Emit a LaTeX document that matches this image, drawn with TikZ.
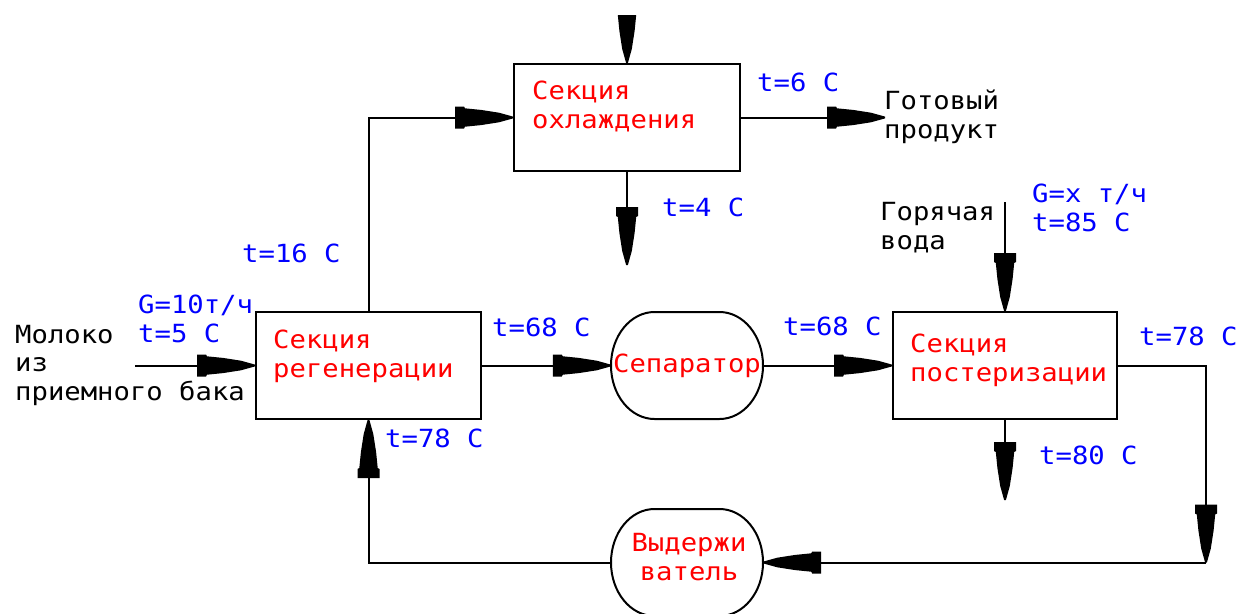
\documentclass[tikz,border=0pt]{standalone}
\usepackage{fontspec}
\newfontfamily\cadfont[FakeStretch=1.09]{DejaVu Sans Mono}
\usetikzlibrary{arrows.meta,calc}
\pgfdeclarearrow{
  name = CAD,
  setup code = {
    \pgfarrowssettipend{0pt}
    \pgfarrowssetlineend{-30pt}
    \pgfarrowssetvisualbackend{-58pt}
    \pgfarrowssetbackend{-58pt}
    \pgfarrowsupperhullpoint{-58pt}{11pt}
    \pgfarrowsupperhullpoint{0pt}{1pt}
  },
  drawing code = {
    \pgfpathmoveto{\pgfqpoint{0pt}{0.9pt}}
    \pgfpathlineto{\pgfqpoint{-14pt}{4.8pt}}
    \pgfpathlineto{\pgfqpoint{-32pt}{7.6pt}}
    \pgfpathlineto{\pgfqpoint{-48pt}{9.2pt}}
    \pgfpathlineto{\pgfqpoint{-49pt}{11pt}}
    \pgfpathlineto{\pgfqpoint{-58pt}{11pt}}
    \pgfpathlineto{\pgfqpoint{-58pt}{-11pt}}
    \pgfpathlineto{\pgfqpoint{-49pt}{-11pt}}
    \pgfpathlineto{\pgfqpoint{-48pt}{-9.2pt}}
    \pgfpathlineto{\pgfqpoint{-32pt}{-7.6pt}}
    \pgfpathlineto{\pgfqpoint{-14pt}{-4.8pt}}
    \pgfpathlineto{\pgfqpoint{0pt}{-0.9pt}}
    \pgfpathclose
    \pgfusepathqfill
  }
}
\newcommand\tankoutline[1]{%
  \draw[line width=2pt] ([shift={(-32.5,-53.5)}]#1.center) -- ++(65,0)
    arc[start angle=-90,end angle=90,x radius=43.5,y radius=53.5]
    -- ++(-65,0)
    arc[start angle=90,end angle=270,x radius=43.5,y radius=53.5] -- cycle;}
\begin{document}
\begin{tikzpicture}[x=1pt,y=-1pt,
  txt/.style={font=\cadfont\fontsize{25}{28.5}\selectfont, inner sep=0pt, anchor=base west, align=left},
  blu/.style={txt,text=blue},
  rd/.style={txt,text=red},
  blk/.style={txt,text=black},
  box/.style={draw, line width=2pt, minimum height=107pt, inner sep=0pt},
  tank/.style={minimum width=152pt, minimum height=107pt, inner sep=0pt},
  flow/.style={-CAD, line width=2pt}]
\useasboundingbox (0,0) rectangle (1236,613);
\clip (0,15) rectangle (1236,613);
% blocks
\node[box, minimum width=225pt] (regen) at (368.5,365.5) {};
\node[box, minimum width=226pt] (cool) at (627,117.5) {};
\node[box, minimum width=224pt] (past) at (1005,365.5) {};
\node[tank, font=\cadfont\fontsize{25}{28.5}\selectfont, text=red] (sep) at (687,365.5) {Сепаратор};
\node[tank] (hold) at (687,562.5) {};
\tankoutline{sep}
\tankoutline{hold}
% free ends
\coordinate (in) at (135,365.5);
\coordinate (rc) at (1206,562.5);
\coordinate (ctop) at (627,4);
\coordinate (cbot) at (627,265);
\coordinate (prod) at (885,117.5);
\coordinate (hw) at (1005,202);
\coordinate (pbot) at (1005,500);
% connectors
\draw[flow] (in) -- (regen.west);
\draw[flow] (regen.east) -- (sep.west);
\draw[flow] (sep.east) -- (past.west);
\draw[flow] (past.east) -| (rc);
\draw[flow] (rc) -- (hold.east);
\draw[flow] (hold.west) -| (regen.south);
\draw[flow] (regen.north) |- (cool.west);
\draw[flow] (ctop) -- (cool.north);
\draw[flow] (cool.south) -- (cbot);
\draw[flow] (cool.east) -- (prod);
\draw[flow] (hw) -- (past.north);
\draw[flow] (past.south) -- (pbot);
% texts (anchor = baseline of the last line)
\node[blk] (milk) at (15,400) {Молоко\\из\\приемного бака};
\node[blu] (g1) at (138,342) {G=10т/ч\\t=5 C};
\node[blu] (t16) at (242,262) {t=16 C};
\node[rd] (regtxt) at (273,377) {Секция\\регенерации};
\node[blu] (t68a) at (492,336) {t=68 C};
\node[blu] (t78a) at (385,447) {t=78 C};
\node[rd] (cooltxt) at (532,128) {Секция\\охлаждения};
\node[blu] (t6) at (757,91) {t=6 C};
\node[blk] (prodtxt) at (884,138) {Готовый\\продукт};
\node[blu] (t4) at (662,216) {t=4 C};
\node[blk] (hwtxt) at (880,249) {Горячая\\вода};
\node[blu] (g2) at (1032,231) {G=x т/ч\\t=85 C};
\node[blu] (t68b) at (783,335) {t=68 C};
\node[rd] (pastxt) at (910,381) {Секция\\постеризации};
\node[blu] (t78b) at (1139,345) {t=78 C};
\node[blu] (t80) at (1039,464) {t=80 C};
\node[rd, align=center, anchor=base] (holdtxt) at (689,580) {Выдержи\\ватель};
\end{tikzpicture}
\end{document}
